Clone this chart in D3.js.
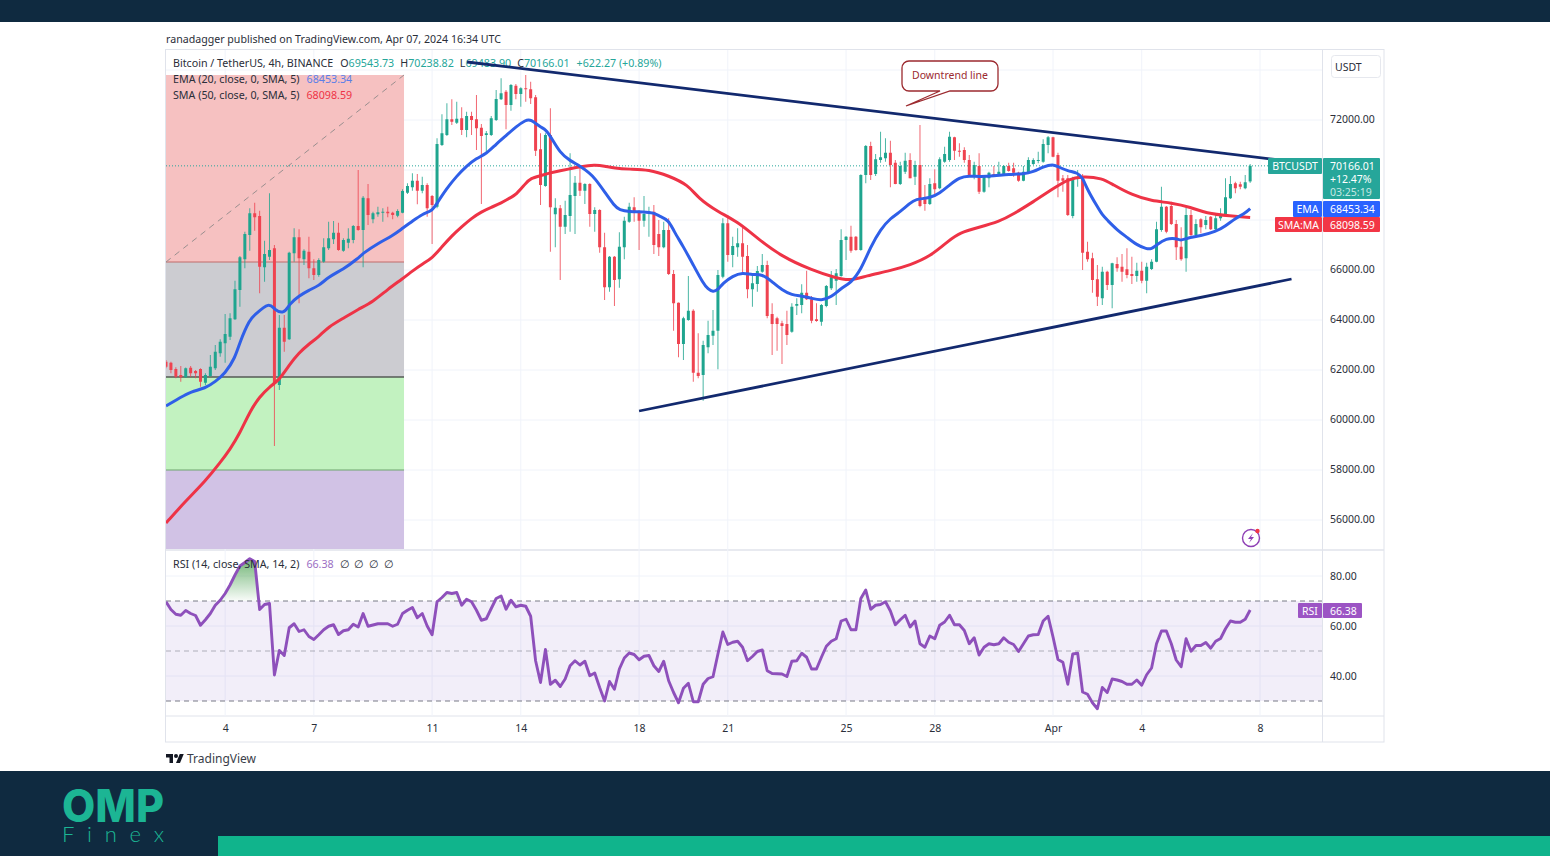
<!DOCTYPE html>
<html>
<head>
<meta charset="utf-8">
<title>BTCUSDT 4h</title>
<script src="https://cdn.jsdelivr.net/npm/d3@7/dist/d3.min.js"></script>
<style>
  html, body { margin: 0; padding: 0; background: #fff; }
  svg { display: block; }
  text { font-family: "Noto Sans", sans-serif; }
</style>
</head>
<body>
<svg id="chart" width="1550" height="856"></svg>
<script>
// 4h candles, first bar is Mar 2 00:00 UTC
const opens = [
  62330,62290,62040,61800,61710,62090,61960,62040,61490,61760,
  62070,62670,63070,63330,64030,65200,66430,67400,68270,68160,
  66110,66530,66870,61400,63690,63230,66670,67310,66430,66730,
  66070,65800,66330,66870,67230,67490,66770,67090,67200,67760,
  67600,68870,68030,68230,68290,68330,68290,68170,68290,69090,
  69310,69570,69170,69400,68960,68530,71000,71400,72030,71890,
  72070,71600,72160,72030,71690,71400,71400,72000,72830,73130,
  72600,73370,73040,73270,73230,72910,70830,69360,71400,68230,
  68470,67730,68160,68960,69490,69170,69440,68240,68400,66910,
  65310,66530,65630,66910,67930,68510,68330,67970,68270,68330,
  67440,66910,67600,65840,64690,63040,64000,64370,61890,61800,
  62910,63370,63570,65730,67870,66600,66910,67070,66560,65230,
  65440,65930,66200,64240,64070,63870,63840,63530,64570,64600,
  65090,64830,64030,63930,64560,65270,65570,65760,67200,67330,
  67330,66800,69800,70960,69840,70400,70470,70690,70290,69440,
  69930,70400,69730,70200,68830,68640,69470,69270,70330,70400,
  71310,70770,70800,70400,69760,70160,69130,69670,69840,69800,
  69840,70160,70070,69890,69570,69890,70240,70360,70330,71000,
  71310,70600,69670,69670,68160,69670,69730,66730,66470,65630,
  64870,65930,65400,66240,66130,66030,65840,65760,65970,65570,
  66040,66330,67600,68530,68560,67840,66930,66470,68200,67400,
  68030,67800,68130,67630,68070,68200,68870,69470,69430,69270,
  69543.73
];
const highs = [
  62400,62330,62110,62160,62100,62160,62000,62070,61870,62600,
  63000,63230,64240,64270,65570,66560,67530,68470,68690,68370,
  67170,69070,67000,64200,64200,66730,67670,67630,66830,67330,
  66430,66470,67270,67930,67960,67890,67270,67670,67800,70000,
  68960,69440,68330,68530,68470,68530,68330,68430,69230,69470,
  69870,69840,69730,69470,69000,71270,72230,72670,72830,72730,
  72510,72330,72330,73000,71840,71560,72160,73200,73670,73200,
  73440,73440,73310,73800,73530,73000,71470,71470,72470,68870,
  68600,68770,70670,69760,70090,69470,69470,68510,68430,67490,
  66560,66560,67510,68130,68690,68910,68400,68960,68530,68600,
  68000,67930,68070,66000,64700,64130,65760,64430,63470,63170,
  63970,64400,66000,68070,68200,67330,67670,67710,67000,65800,
  66160,66640,66370,64670,64130,63970,64370,64670,64870,65430,
  65970,64960,64670,64640,65400,65960,66040,67630,67360,67770,
  67360,69830,71000,71130,70640,71530,71270,71170,70400,70330,
  70690,70670,70370,71800,69400,69670,70030,70510,70930,71530,
  71330,71070,70910,70600,70330,70670,69760,69930,70160,70330,
  70200,70290,70290,69930,70160,70510,70470,70730,71230,71360,
  71330,70690,69800,69800,69730,70000,69840,67130,66690,66200,
  66130,65970,66290,66510,66640,66870,66530,66290,66330,66290,
  66430,67930,69330,68560,68730,68000,67710,68510,68400,68030,
  68070,68160,68160,68270,68470,69670,69760,69530,69530,69800,
  70238.82
];
const lows = [
  62070,61870,61670,61530,61680,61730,61670,61330,61400,61730,
  62000,62530,62290,63200,64000,64530,66070,66770,67570,65070,
  65530,66400,58960,61200,62730,63200,66330,64670,66200,65670,
  65600,65730,66290,66800,67040,66770,66730,66870,67070,67570,
  66110,67800,67870,68130,67930,68110,68030,68110,68270,69040,
  69170,68630,69070,68130,67040,68470,70960,71360,71800,71840,
  71400,71310,71400,70800,68640,70640,71360,71960,72800,71630,
  72370,72830,72530,72730,72640,70560,68600,69330,66730,66910,
  65600,67440,67530,67440,68960,68640,67730,67530,66690,64800,
  65130,64560,65290,66430,67890,67930,66800,67730,67330,66640,
  66560,66870,65800,63570,62510,62400,63970,61530,61670,60770,
  62670,63000,62030,65670,66330,66110,66530,65800,64870,64530,
  65130,65890,64070,62600,62770,62240,63000,63490,64200,64270,
  64800,63870,63930,63770,64510,65200,64600,65730,66400,66690,
  66770,66770,69470,69600,69760,70290,70330,69310,69430,69400,
  69840,69670,69400,68510,68370,68600,68960,69230,70290,70330,
  70400,70530,70290,69760,69630,69040,69090,69310,69760,69770,
  69800,69930,69730,69530,69550,69870,70200,70270,70290,70670,
  70510,68910,69130,68160,68070,69330,66000,66330,65090,64560,
  64600,65200,64470,65930,65530,65670,65440,65530,65470,65070,
  66000,66310,67530,67470,67800,66400,66370,65930,67360,67360,
  67470,67630,67600,67600,67970,68170,68840,69070,69230,69230,
  69483.90
];
const closes = [
  62130,62000,61730,61710,62070,61870,61870,61530,61800,62130,
  62730,63130,63440,64070,65230,66510,67440,68270,68110,66130,
  66640,66800,61470,63690,63130,66690,67310,66470,66770,66070,
  65800,66400,66910,67270,67490,66800,67200,67250,67760,67600,
  68890,68200,68270,68310,68330,68270,68200,68360,69160,69360,
  69570,69170,69400,68470,68600,71040,71470,72030,71930,72050,
  71600,72160,72000,71670,71360,71470,72070,72840,73070,72600,
  73400,73040,73270,73230,72870,70770,69400,71400,68510,68490,
  67730,68200,69000,69490,69170,69440,68240,68400,66910,65310,
  66530,65600,66930,67970,68530,68330,67970,68240,68330,67000,
  66910,67600,65840,64670,63040,64070,64370,61890,61760,63000,
  63400,63570,65800,67870,66600,66960,67070,66530,65230,65470,
  65960,66200,64160,63840,63840,63760,63400,64530,64640,65090,
  64830,63970,63960,64600,65360,65710,65870,67200,67330,66770,
  66800,69800,70960,69800,70430,70510,70690,70200,69440,70160,
  70370,69670,70200,68560,68640,69440,69230,70430,70640,71330,
  70770,70730,70400,69760,70200,69130,69730,69890,69770,69930,
  70160,69960,69890,69570,69930,70400,70400,70400,71040,71310,
  70530,69570,69570,68200,69670,69730,66690,66430,65600,64930,
  65930,65400,66270,66070,65930,65800,65760,65970,65570,66130,
  66330,67630,68530,67530,67840,66910,66430,68200,67400,67840,
  67710,68000,67630,68070,68240,68910,69440,69270,69330,69510,
  70166.01
];

// EMA 20, read at the bars where the curve changes direction
const emaBars = [0,3,5,8,10,12,14,15,17,18,21,22,24,25,27,29,31,33,36,39,40,43,46,48,50,52,54,55,57,59,61,63,65,67,69,71,73,74,76,77,78,80,82,84,86,87,89,91,92,94,97,99,100,102,103,105,107,109,110,111,112,113,115,117,119,121,123,125,127,129,131,133,135,137,139,141,143,145,147,149,151,152,155,157,159,161,163,165,168,171,174,176,178,180,181,183,185,186,187,189,190,191,193,195,197,199,200,201,203,205,206,207,210,213,215,217,219,220];
const emaValues = [60560,60910,61130,61270,61530,61870,62470,63130,64030,64200,64730,64400,64240,64640,64960,65200,65360,65730,66030,66470,66670,67070,67370,67670,67950,68240,68360,68670,69270,69760,70160,70470,70640,71040,71370,71730,72000,72030,71710,71630,71360,70670,70370,70160,69870,69670,69130,68560,68400,68330,68330,68290,68160,68000,67570,66930,66200,65470,65230,65120,65200,65470,65760,65900,65800,65840,65530,65200,65000,64960,64870,64770,64910,65270,65490,66000,66930,67630,68070,68330,68670,68840,68870,69070,69400,69710,69770,69730,69760,69830,69840,69930,70130,70240,70130,69960,69890,69700,69200,68530,68200,68000,67600,67310,67000,66840,66840,67000,67270,67270,67170,67270,67370,67530,67760,68070,68270,68453.34];

// SMA 50, same way
const smaBars = [0,4,8,11,13,15,17,19,21,23,25,27,29,31,33,36,39,42,45,48,50,52,54,56,58,60,62,64,66,68,70,71,73,74,76,78,80,82,84,87,89,91,94,98,102,106,108,112,116,120,125,131,136,139,142,147,151,155,159,161,165,169,172,176,180,183,186,190,192,196,200,204,208,211,216,220];
const smaValues = [55880,56760,57560,58300,58830,59470,60340,60930,61330,61600,62200,62690,63040,63330,63730,64070,64430,64730,65230,65650,65960,66240,66470,66930,67370,67730,68070,68330,68510,68670,68910,69000,69470,69670,69770,69890,69970,70050,70130,70210,70160,70070,70030,70020,69770,69400,68870,68330,67930,67270,66530,66000,65670,65570,65760,65970,66200,66530,67200,67490,67710,67930,68240,68730,69250,69630,69750,69670,69430,69000,68760,68690,68510,68270,68160,68098.59];

// RSI 14, one value per bar
const rsiValues = [
  69.7,66.6,64.7,64.3,66.2,65,64.2,60.3,62.5,65,
  68.3,70.3,73,76.4,80.4,84,85.4,86.9,85.8,66.6,
  68.6,69,40.4,50.2,48.2,59.3,60.9,57.8,58.5,55.8,
  54.6,56.5,58.5,59.9,60.5,56.6,58.1,58.5,60.7,59.6,
  65,59.9,60.4,60.9,60.9,60.9,59.9,60.7,65,66.3,
  67.4,63.3,65,60,56.5,69.7,71.4,73.4,73,73.4,
  68.3,70.7,69.7,66.3,62.3,62.9,67,71,72,66.7,
  70.3,67.7,68.3,67.9,63.9,46.1,37.4,50.6,36.7,38.3,
  35.8,38.8,44.1,46.1,44.4,45.9,40.1,41.2,35.4,30,
  37.8,34.7,42.8,47.2,49.2,48.6,46.5,47.9,48.2,44.1,
  41.8,45.9,38.1,33.4,29.3,35.1,37.1,29.7,29.7,36.7,
  39,39.7,48.8,57.6,52.6,53.5,53.9,51.5,46.1,47.8,
  49.8,50.4,42.1,41,40.9,40.8,39.8,45.9,46.1,49.1,
  47.5,42.8,42.8,47.5,51.9,53.9,54.9,62,62.7,58.5,
  58.5,71,74.4,66.7,68.3,68.6,69.7,66,60.5,62.5,
  64.3,59.6,62,52.9,51.5,56,54.9,60.3,61.6,64.3,
  60.5,60.5,58.2,52.9,55.3,48.4,51.5,52.9,52.5,52.9,
  55.3,53.5,52.6,49.8,52.9,56,56.5,56.6,62,63.9,
  55.6,46.6,45.5,36.7,48.8,49.1,33.6,32.7,29.3,26.9,
  35.4,33.4,38.8,38.4,37.8,36.7,36.7,38.4,36.3,40.5,
  43.2,52.9,58,58,52.9,46.4,43.7,54.9,49.9,52.2,
  52.2,53.4,51.1,53.9,55,58.9,62,61.5,61.5,62.7,
  66.38
];

const priceTicks = [72000,70000,68000,66000,64000,62000,60000,58000,56000];
// the axis tags cover 70000 and 68000 in the picture, so those two get no label
const priceLabels = [72000,66000,64000,62000,60000,58000,56000];
const rsiTicks = [80,60,40];
const rsiBands = [70,50,30];
const timeTicks = [
  new Date(Date.UTC(2024,2,4)), new Date(Date.UTC(2024,2,7)), new Date(Date.UTC(2024,2,11)), new Date(Date.UTC(2024,2,14)),
  new Date(Date.UTC(2024,2,18)), new Date(Date.UTC(2024,2,21)), new Date(Date.UTC(2024,2,25)), new Date(Date.UTC(2024,2,28)),
  new Date(Date.UTC(2024,3,1)), new Date(Date.UTC(2024,3,4)), new Date(Date.UTC(2024,3,8))
];

// the long position drawing on the left, from its top level down to the pane bottom
const zoneBars = [0, 48.3];
const zoneLevels = [73800, 66320, 61720, 58000, 54840];
const zoneFills = ["#f5bebe", "#c9c9cf", "#bff1bd", "#cfbfe4"];
const zoneLineColors = ["#c06a6a", "#555a55", "#6fa56f"];

// trend lines, bar and price at each end
const downBars = [61.1, 226];
const downPrices = [74320, 70400];
const upBars = [96, 228.4];
const upPrices = [60360, 65640];
const lastPrice = 70166.01;

const barMs = 4 * 3600 * 1000;
const firstBar = Date.UTC(2024, 2, 2);
const barTime = (i) => firstBar + i * barMs;

const left = 166, right = 1322, outer = 1384;
const paneTop = 50, paneBottom = 549, rsiTop = 551, rsiBottom = 716, axisBottom = 742;

const svg = d3.select("#chart");

const x = d3.scaleUtc().domain([firstBar, Date.UTC(2024, 3, 8)]).range([left, 1260]);
const y = d3.scaleLinear().domain([74800, 54840]).range([paneTop, paneBottom]);
const yRsi = d3.scaleLinear().domain([90, 24]).range([rsiTop, rsiBottom]);

const defs = svg.append("defs");
defs.append("clipPath").attr("id", "clip-price").append("rect")
  .attr("x", left).attr("y", paneTop).attr("width", right - left).attr("height", paneBottom - paneTop);
defs.append("clipPath").attr("id", "clip-rsi").append("rect")
  .attr("x", left).attr("y", rsiTop).attr("width", right - left).attr("height", rsiBottom - rsiTop);
defs.append("clipPath").attr("id", "clip-over").append("rect")
  .attr("x", left).attr("y", rsiTop).attr("width", right - left).attr("height", yRsi(70) - rsiTop);
const overGrad = defs.append("linearGradient").attr("id", "over-grad")
  .attr("gradientUnits", "userSpaceOnUse").attr("x1", 0).attr("x2", 0)
  .attr("y1", yRsi(87)).attr("y2", yRsi(70));
overGrad.append("stop").attr("offset", 0).attr("stop-color", "#3f9b45").attr("stop-opacity", 0.75);
overGrad.append("stop").attr("offset", 1).attr("stop-color", "#3f9b45").attr("stop-opacity", 0.03);

// page bands and logo
svg.append("rect").attr("width", 1550).attr("height", 22).attr("fill", "#0f2a40");
svg.append("rect").attr("y", 771).attr("width", 1550).attr("height", 85).attr("fill", "#0f2a40");
svg.append("rect").attr("x", 218).attr("y", 836).attr("width", 1332).attr("height", 20).attr("fill", "#10b48c");
svg.append("text").attr("x", 62).attr("y", 822).text("OMP")
  .attr("textLength", 102).attr("lengthAdjust", "spacingAndGlyphs")
  .style("font-family", "Inter").style("font-size", "45px").style("font-weight", 800).attr("fill", "#1cb594");
svg.append("text").attr("x", 62).attr("y", 842).text("Finex")
  .attr("textLength", 102).attr("lengthAdjust", "spacing")
  .style("font-family", "Lato").style("font-size", "22px").style("font-weight", 300).attr("fill", "#1cb594");

svg.append("text").attr("x", left).attr("y", 43).text("ranadagger published on TradingView.com, Apr 07, 2024 16:34 UTC")
  .style("font-size", "11px").attr("textLength", 335).attr("lengthAdjust", "spacingAndGlyphs").attr("fill", "#2a2e39");

// frame
const frame = svg.append("g").attr("stroke", "#e0e3eb").attr("fill", "none");
frame.append("rect").attr("x", left - 0.5).attr("y", paneTop - 0.5).attr("width", outer - left + 0.5).attr("height", axisBottom - paneTop + 0.5);
frame.append("line").attr("x1", left).attr("x2", outer).attr("y1", 550).attr("y2", 550).attr("stroke-width", 1.5);
frame.append("line").attr("x1", left).attr("x2", outer).attr("y1", rsiBottom).attr("y2", rsiBottom);
frame.append("line").attr("x1", right + 0.5).attr("x2", right + 0.5).attr("y1", paneTop).attr("y2", axisBottom);

// grid
const grid = svg.append("g").attr("stroke", "#f0f3fa");
grid.selectAll(".gx").data(timeTicks).enter().append("line")
  .attr("x1", (d) => x(d)).attr("x2", (d) => x(d)).attr("y1", paneTop).attr("y2", rsiBottom);
grid.selectAll(".gy").data([74000].concat(priceTicks)).enter().append("line")
  .attr("x1", left).attr("x2", right).attr("y1", (d) => y(d)).attr("y2", (d) => y(d));
grid.selectAll(".gr").data(rsiTicks).enter().append("line")
  .attr("x1", left).attr("x2", right).attr("y1", (d) => yRsi(d)).attr("y2", (d) => yRsi(d));

// position drawing
const pricePane = svg.append("g").attr("clip-path", "url(#clip-price)");
const zoneX0 = x(barTime(zoneBars[0])), zoneX1 = x(barTime(zoneBars[1]));
pricePane.selectAll(".zone").data(zoneFills).enter().append("rect")
  .attr("x", zoneX0).attr("width", zoneX1 - zoneX0)
  .attr("y", (d, i) => y(zoneLevels[i]))
  .attr("height", (d, i) => y(zoneLevels[i + 1]) - y(zoneLevels[i]))
  .attr("fill", (d) => d).attr("opacity", 0.95);
pricePane.selectAll(".zone-line").data(zoneLineColors).enter().append("line")
  .attr("x1", zoneX0).attr("x2", zoneX1)
  .attr("y1", (d, i) => y(zoneLevels[i + 1])).attr("y2", (d, i) => y(zoneLevels[i + 1]))
  .attr("stroke", (d) => d).attr("stroke-width", (d, i) => (i === 1 ? 1.4 : 1));
pricePane.append("line")
  .attr("x1", zoneX0).attr("x2", zoneX1).attr("y1", y(zoneLevels[1])).attr("y2", y(zoneLevels[0]))
  .attr("stroke", "#9a8f8f").attr("stroke-dasharray", "6 5");

// last price line
pricePane.append("line").attr("x1", left).attr("x2", right).attr("y1", y(lastPrice)).attr("y2", y(lastPrice))
  .attr("stroke", "#26a69a").attr("stroke-dasharray", "1 2");

// candles
const up = "#1fa58f", down = "#ef4350";
const bars = closes.map((c, i) => ({ o: opens[i], h: highs[i], l: lows[i], c: c, t: barTime(i) }));
const candle = pricePane.selectAll(".candle").data(bars).enter().append("g").attr("class", "candle");
candle.append("line")
  .attr("x1", (d) => x(d.t)).attr("x2", (d) => x(d.t))
  .attr("y1", (d) => y(d.h)).attr("y2", (d) => y(d.l))
  .attr("stroke", (d) => (d.c >= d.o ? up : down)).attr("stroke-width", 1).attr("opacity", 0.8);
candle.append("rect")
  .attr("x", (d) => x(d.t) - 1.5).attr("width", 3)
  .attr("y", (d) => y(Math.max(d.o, d.c)))
  .attr("height", (d) => Math.max(1, Math.abs(y(d.o) - y(d.c))))
  .attr("fill", (d) => (d.c >= d.o ? up : down));

// moving averages
const maLine = d3.line().x((d) => x(barTime(d[0]))).y((d) => y(d[1])).curve(d3.curveBasis);
pricePane.append("path").attr("d", maLine(d3.zip(smaBars, smaValues)))
  .attr("fill", "none").attr("stroke", "#ee3346").attr("stroke-width", 3);
pricePane.append("path").attr("d", maLine(d3.zip(emaBars, emaValues)))
  .attr("fill", "none").attr("stroke", "#2f5fe8").attr("stroke-width", 3);

// legend above the candles, the trend line then runs over it
const legend = svg.append("g").style("font-size", "10.7px");
const legendRow = (yPos, parts) => {
  const t = legend.append("text").attr("x", 173).attr("y", yPos);
  parts.forEach((p) => t.append("tspan").attr("fill", p[1]).attr("dx", p[2] || 0).text(p[0]));
};
const ink = "#2a2e39", tealInk = "#26a69a";
legendRow(67, [["Bitcoin / TetherUS, 4h, BINANCE", ink], ["O", ink, 7], ["69543.73", tealInk], ["H", ink, 6], ["70238.82", tealInk],
  ["L", ink, 6], ["69483.90", tealInk], ["C", ink, 6], ["70166.01", tealInk], ["+622.27 (+0.89%)", tealInk, 7]]);
legendRow(83, [["EMA (20, close, 0, SMA, 5)", ink], ["68453.34", "#5b7fe8", 7]]);
legendRow(99, [["SMA (50, close, 0, SMA, 5)", ink], ["68098.59", "#ee3346", 7]]);

// trend lines
const trend = d3.line().x((d) => x(barTime(d[0]))).y((d) => y(d[1]));
svg.append("path").attr("d", trend(d3.zip(downBars, downPrices)))
  .attr("fill", "none").attr("stroke", "#12296e").attr("stroke-width", 2.8);
svg.append("path").attr("d", trend(d3.zip(upBars, upPrices)))
  .attr("fill", "none").attr("stroke", "#12296e").attr("stroke-width", 2.8);

// callout
const callout = svg.append("g");
callout.append("path")
  .attr("d", "M911 61H991a7 7 0 0 1 7 7V84a7 7 0 0 1 -7 7H950L906 106L940 91H909a7 7 0 0 1 -7 -7V68a7 7 0 0 1 7 -7Z")
  .attr("fill", "#fff").attr("stroke", "#9c2a2f").attr("stroke-width", 1.3);
callout.append("text").attr("x", 950).attr("y", 79).attr("text-anchor", "middle").text("Downtrend line")
  .style("font-size", "10.5px").attr("fill", "#9c2a2f");

// RSI pane
const rsiPane = svg.append("g").attr("clip-path", "url(#clip-rsi)");
rsiPane.append("rect").attr("x", left).attr("width", right - left)
  .attr("y", yRsi(70)).attr("height", yRsi(30) - yRsi(70)).attr("fill", "#7e57c2").attr("opacity", 0.1);
rsiPane.selectAll(".band").data(rsiBands).enter().append("line")
  .attr("x1", left).attr("x2", right).attr("y1", (d) => yRsi(d)).attr("y2", (d) => yRsi(d))
  .attr("stroke", "#787b86").attr("stroke-dasharray", "5 4").attr("opacity", (d) => (d === 50 ? 0.55 : 1));
const rsiPoints = rsiValues.map((v, i) => [barTime(i), v]);
rsiPane.append("path")
  .attr("d", d3.area().x((d) => x(d[0])).y0(yRsi(70)).y1((d) => yRsi(d[1]))(rsiPoints))
  .attr("fill", "url(#over-grad)").attr("clip-path", "url(#clip-over)");
rsiPane.append("path")
  .attr("d", d3.line().x((d) => x(d[0])).y((d) => yRsi(d[1]))(rsiPoints))
  .attr("fill", "none").attr("stroke", "#8e50bb").attr("stroke-width", 2.9).attr("stroke-linejoin", "round");
const rsiLegend = svg.append("text").attr("x", 173).attr("y", 568).style("font-size", "10.7px");
rsiLegend.append("tspan").attr("fill", ink).text("RSI (14, close, SMA, 14, 2)");
rsiLegend.append("tspan").attr("fill", "#9c6fc4").attr("dx", 7).text("66.38");
rsiLegend.append("tspan").attr("fill", ink).attr("dx", 6).style("letter-spacing", "1px").text("∅ ∅ ∅ ∅");

// axes
const styleAxis = (g) => {
  g.select(".domain").remove();
  g.selectAll(".tick line").remove();
  g.selectAll("text").style("font-family", '"Noto Sans", sans-serif').style("font-size", "10.5px").attr("fill", "#2a2e39");
};
svg.append("g").attr("transform", `translate(${right + 8},-0.5)`)
  .call(d3.axisRight(y).tickValues(priceLabels).tickFormat(d3.format(".2f")).tickSize(0).tickPadding(0))
  .call(styleAxis);
svg.append("g").attr("transform", `translate(${right + 8},0)`)
  .call(d3.axisRight(yRsi).tickValues(rsiTicks).tickFormat(d3.format(".2f")).tickSize(0).tickPadding(0))
  .call(styleAxis);
svg.append("g").attr("transform", `translate(0,${rsiBottom + 9})`)
  .call(d3.axisBottom(x).tickValues(timeTicks)
    .tickFormat((d) => (d.getUTCDate() === 1 ? "Apr" : String(d.getUTCDate()))).tickSize(0).tickPadding(0))
  .call(styleAxis);

// USDT button
svg.append("rect").attr("x", 1331.5).attr("y", 55.5).attr("width", 49).attr("height", 22).attr("rx", 3)
  .attr("fill", "#fff").attr("stroke", "#e6e8ee");
svg.append("text").attr("x", 1335).attr("y", 71).text("USDT").style("font-size", "10.5px").attr("fill", ink);

// price labels on the axis
const tag = (x0, w, y0, h, fill, lines, anchorMid) => {
  svg.append("rect").attr("x", x0).attr("y", y0).attr("width", w).attr("height", h).attr("rx", 1).attr("fill", fill);
  lines.forEach((l, i) => {
    svg.append("text").attr("x", anchorMid ? x0 + w / 2 : x0 + 7).attr("y", y0 + 11.5 + i * 13)
      .attr("text-anchor", anchorMid ? "middle" : "start").text(l[0])
      .style("font-size", "10.5px").attr("fill", l[1]);
  });
};
tag(1268, 54, 158, 16, "#26a69a", [["BTCUSDT", "#fff"]], true);
tag(1323, 57, 158, 41, "#26a69a", [["70166.01", "#fff"], ["+12.47%", "#fff"], ["03:25:19", "#c5e8e3"]]);
tag(1293, 29, 201, 16, "#2962ff", [["EMA", "#fff"]], true);
tag(1323, 57, 201, 16, "#2962ff", [["68453.34", "#fff"]]);
tag(1275, 47, 217, 15, "#f23645", [["SMA:MA", "#fff"]], true);
tag(1323, 57, 217, 15, "#f23645", [["68098.59", "#fff"]]);
tag(1298, 24, 603, 15, "#9c54c4", [["RSI", "#fff"]], true);
tag(1323, 39, 603, 15, "#9c54c4", [["66.38", "#fff"]]);

// lightning badge
const badge = svg.append("g").attr("transform", "translate(1251,538)");
badge.append("circle").attr("r", 8.5).attr("fill", "#fff").attr("stroke", "#8e3fb5").attr("stroke-width", 1.4);
badge.append("path").attr("d", "M2 -5L-3 1H0L-2 5L3 -1H0Z").attr("fill", "#8e3fb5");
badge.append("circle").attr("cx", 6.5).attr("cy", -7).attr("r", 2.2).attr("fill", "#f23645");

// TradingView mark
const mark = svg.append("g").attr("transform", "translate(166,752) scale(0.5)").attr("fill", "#131722");
mark.append("path").attr("d", "M14 22H7V11H0V4h14v18zM28 22h-8l7.5-18h8L28 22z");
mark.append("circle").attr("cx", 20).attr("cy", 8).attr("r", 4);
svg.append("text").attr("x", 187).attr("y", 763).text("TradingView").style("font-size", "12px").attr("fill", "#3a3e49");
</script>
</body>
</html>
